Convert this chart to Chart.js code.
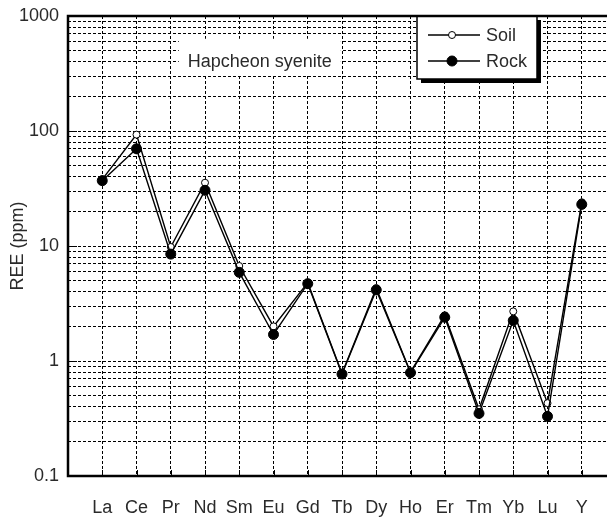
<!DOCTYPE html>
<html>
<head>
<meta charset="utf-8">
<script src="https://cdn.jsdelivr.net/npm/chart.js@4.4.1/dist/chart.umd.min.js"></script>
<style>
  html, body { margin: 0; padding: 0; background: #fff; overflow: hidden; }
  #wrap { width: 637px; height: 517px; }
</style>
</head>
<body>
<div id="wrap"><canvas id="c" width="637" height="517"></canvas></div>
<script>
const categories = ['La','Ce','Pr','Nd','Sm','Eu','Gd','Tb','Dy','Ho','Er','Tm','Yb','Lu','Y'];
const soil = [38, 93, 9.8, 35.5, 6.7, 2.0, 4.8, 0.78, 4.3, 0.80, 2.5, 0.38, 2.7, 0.43, 24];
const rock = [37, 70, 8.5, 30.5, 5.9, 1.7, 4.7, 0.77, 4.15, 0.79, 2.4, 0.35, 2.25, 0.33, 23];
const majorTicks = [0.1, 1, 10, 100, 1000];
const minorSteps = [1, 2, 3, 4, 5, 6, 7, 8, 9];
const seriesNames = ['Soil', 'Rock'];
const annotationText = 'Hapcheon syenite';
const yTitle = 'REE (ppm)';

const FONT = "'Liberation Sans', Arial, sans-serif";
const TXT = '#2a2a2a';

const yTicks = [];
majorTicks.slice(0, -1).forEach(d => minorSteps.forEach(m => yTicks.push(Number((m * d).toPrecision(3)))));
yTicks.push(majorTicks[majorTicks.length - 1]);

const toPoints = arr => arr.map((v, i) => ({ x: i + 1, y: v }));

const framePlugin = {
  id: 'frame',
  afterDatasetsDraw(chart) {
    const { ctx, chartArea: a, scales } = chart;
    const xs = scales.x, ys = scales.y;
    ctx.save();
    ctx.strokeStyle = '#000';
    ctx.lineWidth = 1;
    ctx.beginPath();
    majorTicks.forEach(v => {
      const py = Math.round(ys.getPixelForValue(v)) + 0.5;
      ctx.moveTo(a.left, py); ctx.lineTo(a.left + 9, py);
    });
    categories.forEach((c, i) => {
      const px = Math.round(xs.getPixelForValue(i + 1)) + 0.5;
      ctx.moveTo(px, a.bottom); ctx.lineTo(px, a.bottom - 6);
    });
    ctx.stroke();

    // annotation box
    ctx.font = '18px ' + FONT;
    const tw = ctx.measureText(annotationText).width;
    const cx = xs.getPixelForValue(5.6), cy = ys.getPixelForValue(400);
    ctx.fillStyle = '#fff';
    ctx.fillRect(cx - tw / 2 - 9, cy - 23, tw + 18, 36);
    ctx.fillStyle = TXT;
    ctx.textAlign = 'center';
    ctx.textBaseline = 'middle';
    ctx.fillText(annotationText, cx, cy);

    // legend box with shadow
    const lx = 417, ly = a.top, lw = 120, lh = 63;
    ctx.fillStyle = '#000';
    ctx.fillRect(lx + 4, ly + 4, lw, lh);
    ctx.fillStyle = '#fff';
    ctx.fillRect(lx, ly, lw, lh);
    ctx.lineWidth = 1.5;
    ctx.strokeStyle = '#000';
    ctx.strokeRect(lx, ly, lw, lh);
    chart.data.datasets.forEach((ds, k) => {
      const yy = ly + 19 + 26 * k;
      ctx.lineWidth = 1.3;
      ctx.beginPath();
      ctx.moveTo(lx + 11, yy); ctx.lineTo(lx + 63, yy);
      ctx.stroke();
      ctx.beginPath();
      ctx.arc(lx + 35, yy, ds.pointRadius, 0, Math.PI * 2);
      ctx.fillStyle = ds.pointBackgroundColor;
      ctx.fill();
      ctx.lineWidth = 1;
      ctx.stroke();
      ctx.fillStyle = TXT;
      ctx.textAlign = 'left';
      ctx.textBaseline = 'middle';
      ctx.font = '18px ' + FONT;
      ctx.fillText(ds.label, lx + 69, yy + 1);
    });

    ctx.lineWidth = 2.5;
    ctx.strokeStyle = '#000';
    ctx.strokeRect(a.left, a.top, a.right - a.left, a.bottom - a.top);
    ctx.restore();
  }
};

new Chart(document.getElementById('c'), {
  type: 'line',
  data: {
    datasets: [
      {
        label: seriesNames[0], data: toPoints(soil), order: 1,
        borderColor: '#000', borderWidth: 1.4, pointRadius: 3.5,
        pointBackgroundColor: '#fff', pointBorderColor: '#000', pointBorderWidth: 1,
        tension: 0, fill: false
      },
      {
        label: seriesNames[1], data: toPoints(rock), order: 0,
        borderColor: '#000', borderWidth: 1.4, pointRadius: 5,
        pointBackgroundColor: '#000', pointBorderColor: '#000', pointBorderWidth: 1,
        tension: 0, fill: false
      }
    ]
  },
  options: {
    responsive: false,
    animation: false,
    devicePixelRatio: 1,
    layout: { padding: { top: 16, right: 3, left: 0, bottom: 0 } },
    plugins: { legend: { display: false }, tooltip: { enabled: false } },
    scales: {
      x: {
        type: 'linear', min: 0, max: categories.length + 1,
        afterBuildTicks: s => { s.ticks = Array.from({ length: categories.length + 2 }, (_, i) => ({ value: i })); },
        afterFit: s => { s.height = 41; },
        ticks: {
          autoSkip: false, maxRotation: 0, padding: 21, color: TXT,
          font: { family: FONT, size: 18 },
          callback: v => categories[v - 1] || ''
        },
        grid: { color: '#000', lineWidth: 1, drawTicks: false },
        border: { display: false, dash: [3, 2] }
      },
      y: {
        type: 'logarithmic', min: 0.1, max: 1000,
        afterBuildTicks: s => { s.ticks = yTicks.map(v => ({ value: v, major: majorTicks.includes(v) })); },
        afterFit: s => { s.width = 68; s.paddingTop = 0; s.paddingBottom = 0; },
        ticks: {
          autoSkip: false, padding: 9, color: TXT,
          font: { family: FONT, size: 18, lineHeight: 1.0 },
          callback: v => majorTicks.includes(v) ? String(v) : ''
        },
        grid: { color: '#000', lineWidth: 1, drawTicks: false },
        border: { display: false, dash: [3, 2] },
        title: { display: true, text: yTitle, color: TXT, font: { family: FONT, size: 18 }, padding: { top: 7, bottom: 0 } }
      }
    }
  },
  plugins: [framePlugin]
});
</script>
</body>
</html>
